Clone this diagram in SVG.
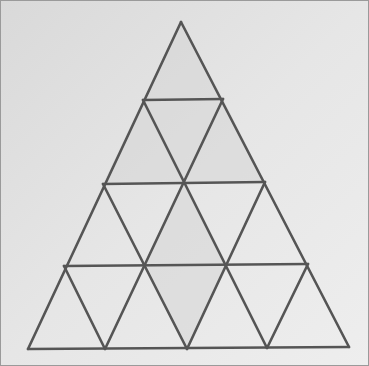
<svg xmlns="http://www.w3.org/2000/svg" width="369" height="366" viewBox="0 0 369 366">
<defs>
<linearGradient id="bg" x1="0" y1="0" x2="1" y2="1">
<stop offset="0" stop-color="#d9d9d9"/>
<stop offset="0.5" stop-color="#e6e6e6"/>
<stop offset="1" stop-color="#eeeeee"/>
</linearGradient>
<style>
.ln{stroke:#555;stroke-width:2.6;stroke-linecap:round;fill:none}
.sh{fill:#d4d4d4;opacity:0.5}
</style>
</defs>
<rect x="0.5" y="0.5" width="368" height="365" fill="url(#bg)" stroke="#9a9a9a" stroke-width="1"/>
<g id="shading">
<polygon class="sh" points="181,22 143,100 223,99"/>
<polygon class="sh" points="143,100 103,184 183,183 223,99"/>
<polygon class="sh" points="223,99 183,183 265,182"/>
<polygon class="sh" points="146,265 183,183 227,265"/>
<polygon class="sh" points="146,265 227,265 187,349"/>
</g>
<g id="connectors">
<line class="ln" x1="181" y1="22" x2="28" y2="349"/>
<line class="ln" x1="181" y1="22" x2="349" y2="347"/>
<line class="ln" x1="143" y1="100" x2="223" y2="99"/>
<line class="ln" x1="103" y1="184" x2="265" y2="182"/>
<line class="ln" x1="64" y1="266" x2="308" y2="264"/>
<line class="ln" x1="28" y1="349" x2="349" y2="347"/>
<line class="ln" x1="143" y1="100" x2="267" y2="348"/>
<line class="ln" x1="103" y1="184" x2="187" y2="349"/>
<line class="ln" x1="64" y1="266" x2="105" y2="349"/>
<line class="ln" x1="223" y1="99" x2="105" y2="349"/>
<line class="ln" x1="265" y1="182" x2="187" y2="349"/>
<line class="ln" x1="308" y1="264" x2="267" y2="348"/>
</g>
</svg>
